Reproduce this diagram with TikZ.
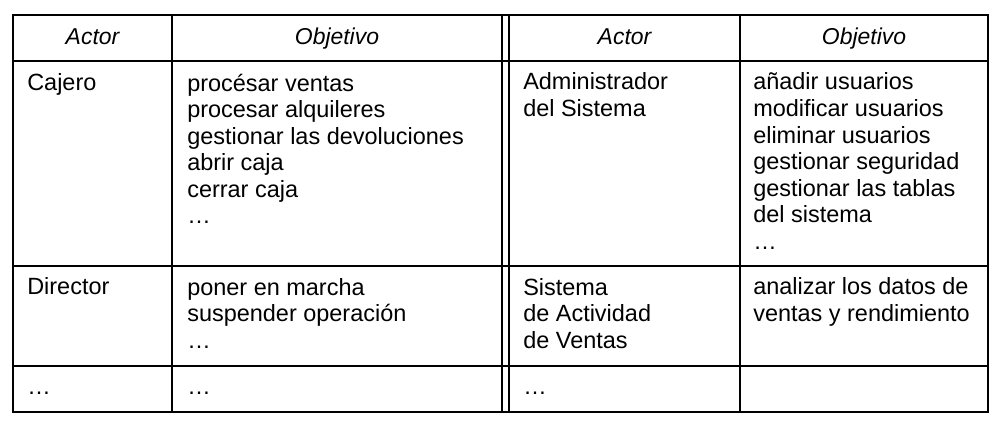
\documentclass[tikz,border=0pt]{standalone}
\usepackage{fontspec}
\setmainfont{Liberation Sans}

\begin{document}
\begin{tikzpicture}[x=0.75pt,y=0.75pt,yscale=-1,xscale=1,
  outer/.style={line width=1.5pt},
  inner/.style={line width=0.9pt},
  head/.style={anchor=base,inner sep=0pt,font=\fontsize{17.2}{19.9}\selectfont\itshape},
  cell/.style={anchor=base west,inner sep=0pt,align=left,font=\fontsize{17.6}{19.9}\selectfont}]
\useasboundingbox (0,0) rectangle (1001,423);

%Outer frame
\draw [outer] (13,15) rectangle (988,412) ;
%Straight Lines (rows)
\draw [outer] (13,61) -- (988,61) ;
\draw [inner] (13,266) -- (988,266) ;
\draw [inner] (13,366) -- (988,366) ;
%Straight Lines (columns)
\draw [inner] (172,15) -- (172,412) ;
\draw [inner] (502,15) -- (502,412) ;
\draw [inner] (509,15) -- (509,412) ;
\draw [inner] (740,15) -- (740,412) ;

% Text Node (header)
\node [head] (hactorA) at (92.5,45) {Actor};
\node [head] (hobjA) at (337,45) {Objetivo};
\node [head] (hactorB) at (624.5,45) {Actor};
\node [head] (hobjB) at (864,45) {Objetivo};

% Text Node (row 1) -- placed at the baseline of the last line
\node [cell] (cajero) at (27,91) {Cajero};
\node [cell] (objcajero) at (187,223.7) {procésar ventas\\procesar alquileres\\gestionar las devoluciones\\abrir caja\\cerrar caja\\\ldots};
\node [cell] (admin) at (523,116.5) {Administrador\\del Sistema};
\node [cell] (objadmin) at (753,249.2) {añadir usuarios\\modificar usuarios\\eliminar usuarios\\gestionar seguridad\\gestionar las tablas\\del sistema\\\ldots};

% Text Node (row 2)
\node [cell] (director) at (27,295) {Director};
\node [cell] (objdirector) at (187,348.1) {poner en marcha\\suspender operación\\\ldots};
\node [cell] (sisventas) at (523,348.1) {Sistema\\de Actividad\\de Ventas};
\node [cell] (objsisventas) at (753,321.5) {analizar los datos de\\ventas y rendimiento};

% Text Node (row 3)
\node [cell] (masA) at (27,395) {\ldots};
\node [cell] (masB) at (187,395) {\ldots};
\node [cell] (masC) at (523,395) {\ldots};

\end{tikzpicture}
\end{document}
